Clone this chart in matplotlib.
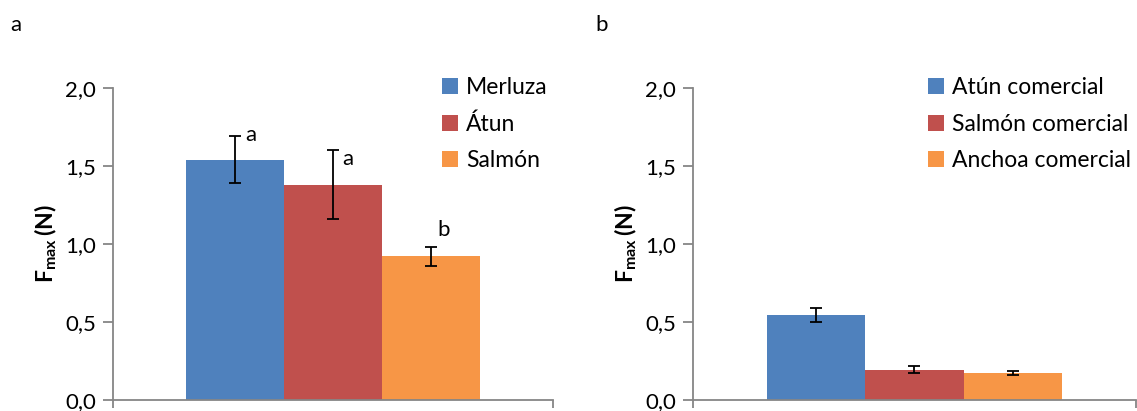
import matplotlib
matplotlib.use("Agg")
import matplotlib.pyplot as plt
import numpy as np

plt.rcParams['font.family'] = ['Lato', 'DejaVu Sans']
plt.rcParams['mathtext.fontset'] = 'custom'
plt.rcParams['mathtext.rm'] = 'Lato'
plt.rcParams['mathtext.bf'] = 'Lato:bold'

# panel a: fresh fish
species_a = ["Merluza", "Átun", "Salmón"]
fmax_a = [1.54, 1.38, 0.92]
err_a = [0.15, 0.22, 0.06]
letters_a = ["a", "a", "b"]
# offsets of the letters from the top of each error bar (points)
letter_off = [(11, 1), (11, -6), (9, 12)]

# panel b: commercial products
species_b = ["Atún comercial", "Salmón comercial", "Anchoa comercial"]
fmax_b = [0.545, 0.195, 0.175]
err_b = [0.045, 0.022, 0.012]

colors = ["#4F81BD", "#C0504D", "#F79646"]
axis_gray = "#868686"

fig = plt.figure(figsize=(11.37, 4.11), dpi=100)
ax1 = fig.add_axes([0.0994, 0.0268, 0.387, 0.759])
ax2 = fig.add_axes([0.6095, 0.0268, 0.3896, 0.759])

def draw_panel(ax, names, vals, errs):
    width = 1 / 1.5 / 3
    xs = (np.arange(3) - 1) * width
    for x, v, e, c, n in zip(xs, vals, errs, colors, names):
        ax.bar(x, v, width=width, color=c, label=n, linewidth=0)
        ax.errorbar(x, v, yerr=e, fmt='none', ecolor='black', elinewidth=1.3,
                    capsize=4.3, capthick=1.3)
    ax.set_xlim(-0.5, 0.5)
    ax.set_ylim(0, 2.0)
    ax.set_yticks([0, 0.5, 1.0, 1.5, 2.0])
    ax.set_yticklabels(["0,0", "0,5", "1,0", "1,5", "2,0"])
    ax.set_xticks([-0.5, 0.5])
    ax.set_xticklabels([])
    for s in ["top", "right"]:
        ax.spines[s].set_visible(False)
    for s in ["left", "bottom"]:
        ax.spines[s].set_color(axis_gray)
        ax.spines[s].set_linewidth(1.3)
        ax.spines[s].set_clip_on(False)
    ax.tick_params(axis='y', direction='out', length=7, width=1.3, color=axis_gray,
                   labelsize=16, pad=5)
    ax.tick_params(axis='x', direction='out', length=6, width=1.3, color=axis_gray)
    ax.set_ylabel(r'$\mathbf{F_{max}}$$\,$(N)', fontsize=16.5, fontweight='bold', labelpad=5)
    ax.legend(loc='upper right', bbox_to_anchor=(1.035, 1.1), frameon=False, fontsize=16.5,
              handlelength=0.7, handleheight=0.7, handletextpad=0.35, labelspacing=0.66)
    return xs

xs_a = draw_panel(ax1, species_a, fmax_a, err_a)
draw_panel(ax2, species_b, fmax_b, err_b)

for x, v, e, t, off in zip(xs_a, fmax_a, err_a, letters_a, letter_off):
    ax1.annotate(t, (x, v + e), xytext=off, textcoords='offset points',
                 ha='center', va='center', fontsize=16)

fig.text(10 / 1137, 1 - 25 / 411, "a", fontsize=16, va='center')
fig.text(595 / 1137, 1 - 25 / 411, "b", fontsize=16, va='center')

fig.savefig("out.png", dpi=100)
